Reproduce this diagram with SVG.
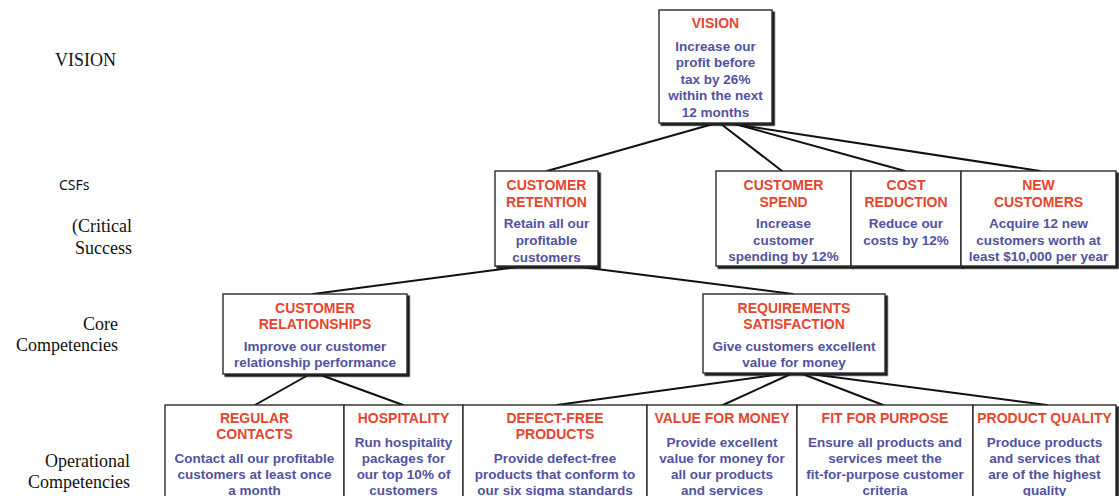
<svg xmlns="http://www.w3.org/2000/svg" width="1119" height="496" viewBox="0 0 1119 496">
  <defs>
    <filter id="shadow" x="-5%" y="-5%" width="115%" height="115%">
      <feDropShadow dx="2.2" dy="2.2" stdDeviation="0.4" flood-color="#1a1a1a" flood-opacity="1"/>
    </filter>
  </defs>
  <style>
    .bg { fill: #ffffff; }
    .box { fill: #ffffff; stroke: #2a2a2a; stroke-width: 1.4; filter: url(#shadow); }
    .title { font-family: "Liberation Sans", Arial, sans-serif; font-weight: bold; font-size: 14px; fill: #e5462f; text-anchor: middle; }
    .body { font-family: "Liberation Sans", Arial, sans-serif; font-weight: bold; font-size: 13.5px; fill: #5252a2; text-anchor: middle; }
    .level { font-family: "Liberation Serif", "Times New Roman", serif; font-size: 18px; fill: #111111; }
    .level-sans { font-family: "Noto Sans", "Open Sans", sans-serif; font-size: 14px; fill: #111111; }
    .link { stroke: #111111; stroke-width: 2; fill: none; stroke-linecap: round; }
  </style>

  <rect class="bg" x="0" y="0" width="1119" height="496"/>

  <!-- level captions down the left margin -->
  <g id="levels">
    <text class="level" x="55" y="66">VISION</text>
    <text class="level-sans" x="59" y="190">CSFs</text>
    <text class="level" x="132" y="232" text-anchor="end">(Critical</text>
    <text class="level" x="132" y="254" text-anchor="end">Success</text>
    <text class="level" x="118" y="330" text-anchor="end">Core</text>
    <text class="level" x="118" y="351" text-anchor="end">Competencies</text>
    <text class="level" x="130" y="467" text-anchor="end">Operational</text>
    <text class="level" x="130" y="488" text-anchor="end">Competencies</text>
  </g>

  <!-- tree connectors -->
  <g id="connectors">
    <line class="link" x1="713" y1="124" x2="547" y2="171"/>
    <line class="link" x1="721" y1="124" x2="782" y2="171"/>
    <line class="link" x1="735" y1="124" x2="905" y2="171"/>
    <line class="link" x1="733" y1="124" x2="1040" y2="171"/>
    <line class="link" x1="525" y1="266" x2="313" y2="294"/>
    <line class="link" x1="573" y1="266" x2="793" y2="294"/>
    <line class="link" x1="310" y1="374" x2="255" y2="405"/>
    <line class="link" x1="318" y1="374" x2="403" y2="405"/>
    <line class="link" x1="790" y1="373" x2="557" y2="405"/>
    <line class="link" x1="793" y1="373" x2="723" y2="405"/>
    <line class="link" x1="800" y1="373" x2="883" y2="405"/>
    <line class="link" x1="803" y1="373" x2="1047" y2="405"/>
  </g>

  <!-- vision -->
  <g id="vision">
    <rect class="box" x="659" y="10" width="113" height="113"/>
    <text class="title" x="715.5" y="28">VISION</text>
    <text class="body" x="715.5" y="51">Increase our</text>
    <text class="body" x="715.5" y="67">profit before</text>
    <text class="body" x="715.5" y="84">tax by 26%</text>
    <text class="body" x="715.5" y="100">within the next</text>
    <text class="body" x="715.5" y="117">12 months</text>
  </g>

  <!-- critical success factors -->
  <g id="customer-retention">
    <rect class="box" x="495" y="171" width="103" height="95"/>
    <text class="title" x="546.5" y="190">CUSTOMER</text>
    <text class="title" x="546.5" y="207">RETENTION</text>
    <text class="body" x="546.5" y="228">Retain all our</text>
    <text class="body" x="546.5" y="245">profitable</text>
    <text class="body" x="546.5" y="262">customers</text>
  </g>

  <g id="customer-spend">
    <rect class="box" x="716" y="171" width="135" height="95"/>
    <text class="title" x="783.5" y="190">CUSTOMER</text>
    <text class="title" x="783.5" y="207">SPEND</text>
    <text class="body" x="783.5" y="228">Increase</text>
    <text class="body" x="783.5" y="245">customer</text>
    <text class="body" x="783.5" y="261">spending by 12%</text>
  </g>

  <g id="cost-reduction">
    <rect class="box" x="851" y="171" width="110" height="95"/>
    <text class="title" x="906" y="190">COST</text>
    <text class="title" x="906" y="207">REDUCTION</text>
    <text class="body" x="906" y="228">Reduce our</text>
    <text class="body" x="906" y="245">costs by 12%</text>
  </g>

  <g id="new-customers">
    <rect class="box" x="961" y="171" width="155" height="95"/>
    <text class="title" x="1038.5" y="190">NEW</text>
    <text class="title" x="1038.5" y="207">CUSTOMERS</text>
    <text class="body" x="1038.5" y="228">Acquire 12 new</text>
    <text class="body" x="1038.5" y="245">customers worth at</text>
    <text class="body" x="1038.5" y="261">least $10,000 per year</text>
  </g>

  <!-- core competencies -->
  <g id="customer-relationships">
    <rect class="box" x="223" y="294" width="184" height="80"/>
    <text class="title" x="315" y="313">CUSTOMER</text>
    <text class="title" x="315" y="329">RELATIONSHIPS</text>
    <text class="body" x="315" y="351">Improve our customer</text>
    <text class="body" x="315" y="367">relationship performance</text>
  </g>

  <g id="requirements-satisfaction">
    <rect class="box" x="703" y="294" width="182" height="79"/>
    <text class="title" x="794" y="313">REQUIREMENTS</text>
    <text class="title" x="794" y="329">SATISFACTION</text>
    <text class="body" x="794" y="351">Give customers excellent</text>
    <text class="body" x="794" y="367">value for money</text>
  </g>

  <!-- operational competencies -->
  <g id="regular-contacts">
    <rect class="box" x="165" y="405" width="179" height="100"/>
    <text class="title" x="254.5" y="423">REGULAR</text>
    <text class="title" x="254.5" y="439">CONTACTS</text>
    <text class="body" x="254.5" y="463">Contact all our profitable</text>
    <text class="body" x="254.5" y="479">customers at least once</text>
    <text class="body" x="254.5" y="495">a month</text>
  </g>

  <g id="hospitality">
    <rect class="box" x="344" y="405" width="119" height="100"/>
    <text class="title" x="403.5" y="423">HOSPITALITY</text>
    <text class="body" x="403.5" y="447">Run hospitality</text>
    <text class="body" x="403.5" y="463">packages for</text>
    <text class="body" x="403.5" y="479">our top 10% of</text>
    <text class="body" x="403.5" y="495">customers</text>
  </g>

  <g id="defect-free-products">
    <rect class="box" x="463" y="405" width="184" height="100"/>
    <text class="title" x="555" y="423">DEFECT-FREE</text>
    <text class="title" x="555" y="439">PRODUCTS</text>
    <text class="body" x="555" y="463">Provide defect-free</text>
    <text class="body" x="555" y="479">products that conform to</text>
    <text class="body" x="555" y="495">our six sigma standards</text>
  </g>

  <g id="value-for-money">
    <rect class="box" x="647" y="405" width="150" height="100"/>
    <text class="title" x="722" y="423">VALUE FOR MONEY</text>
    <text class="body" x="722" y="447">Provide excellent</text>
    <text class="body" x="722" y="463">value for money for</text>
    <text class="body" x="722" y="479">all our products</text>
    <text class="body" x="722" y="495">and services</text>
  </g>

  <g id="fit-for-purpose">
    <rect class="box" x="797" y="405" width="176" height="100"/>
    <text class="title" x="885" y="423">FIT FOR PURPOSE</text>
    <text class="body" x="885" y="447">Ensure all products and</text>
    <text class="body" x="885" y="463">services meet the</text>
    <text class="body" x="885" y="479">fit-for-purpose customer</text>
    <text class="body" x="885" y="495">criteria</text>
  </g>

  <g id="product-quality">
    <rect class="box" x="973" y="405" width="143" height="100"/>
    <text class="title" x="1044.5" y="423">PRODUCT QUALITY</text>
    <text class="body" x="1044.5" y="447">Produce products</text>
    <text class="body" x="1044.5" y="463">and services that</text>
    <text class="body" x="1044.5" y="479">are of the highest</text>
    <text class="body" x="1044.5" y="495">quality</text>
  </g>
</svg>
